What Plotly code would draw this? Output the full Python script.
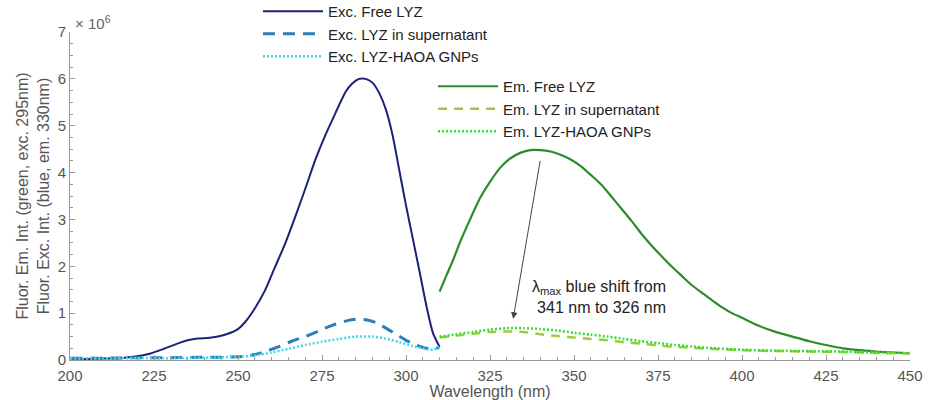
import plotly.graph_objects as go

# ---------------- data (intensity in units of 1e6) ----------------
exc_free_x = [200, 205, 210, 215, 220, 224, 228, 232, 235, 238, 241, 244, 247, 250, 252, 255, 258, 261, 264, 267, 270,
              273, 276, 279, 282, 284, 286, 287, 288, 290, 292, 294, 296, 298, 300, 302, 304, 306, 308, 310]
exc_free_y = [0.03, 0.02, 0.03, 0.04, 0.08, 0.14, 0.24, 0.35, 0.42, 0.46, 0.47, 0.50, 0.56, 0.66, 0.80, 1.10, 1.48, 1.98,
              2.48, 3.05, 3.65, 4.27, 4.80, 5.27, 5.72, 5.90, 6.00, 6.01, 6.00, 5.92, 5.70, 5.35, 4.80, 4.05, 3.30, 2.60,
              1.90, 1.18, 0.58, 0.28]

exc_sup_x = [200, 210, 220, 230, 240, 245, 250, 254, 258, 262, 266, 270, 274, 278, 282, 285, 288, 291, 294, 297, 300,
             303, 306, 308, 310]
exc_sup_y = [0.04, 0.04, 0.05, 0.05, 0.06, 0.06, 0.07, 0.10, 0.18, 0.28, 0.40, 0.50, 0.62, 0.74, 0.83, 0.87, 0.86,
             0.80, 0.68, 0.55, 0.42, 0.32, 0.25, 0.23, 0.27]

exc_gnp_x = [200, 210, 220, 230, 240, 250, 255, 260, 265, 270, 275, 280, 285, 290, 294, 298, 302, 305, 308, 310]
exc_gnp_y = [0.03, 0.03, 0.04, 0.04, 0.05, 0.07, 0.10, 0.16, 0.24, 0.32, 0.39, 0.45, 0.50, 0.50, 0.46, 0.38, 0.30,
             0.25, 0.22, 0.27]

em_free_x = [310, 312, 314, 316, 319, 322, 325, 328, 331, 334, 337, 340, 343, 346, 349, 352, 355, 358, 361, 364, 367,
             370, 373, 376, 379, 382, 385, 388, 391, 394, 397, 400, 405, 410, 415, 420, 425, 430, 435, 440, 445, 450]
em_free_y = [1.46, 1.80, 2.13, 2.50, 2.99, 3.45, 3.80, 4.10, 4.30, 4.42, 4.48, 4.48, 4.45, 4.38, 4.28, 4.14, 3.95,
             3.75, 3.50, 3.24, 2.98, 2.70, 2.45, 2.22, 2.00, 1.80, 1.60, 1.44, 1.28, 1.13, 1.00, 0.90, 0.73, 0.60,
             0.50, 0.40, 0.32, 0.25, 0.21, 0.18, 0.16, 0.14]

em_sup_x = [310, 315, 320, 325, 330, 335, 340, 345, 350, 355, 360, 365, 370, 375, 380, 385, 390, 400, 410, 420, 430,
            440, 450]
em_sup_y = [0.48, 0.52, 0.56, 0.60, 0.61, 0.60, 0.55, 0.51, 0.48, 0.45, 0.42, 0.38, 0.35, 0.31, 0.28, 0.26, 0.24,
            0.21, 0.19, 0.18, 0.17, 0.15, 0.14]

em_gnp_x = [310, 315, 320, 325, 330, 335, 340, 345, 350, 355, 360, 365, 370, 375, 380, 385, 390, 400, 410, 420, 430,
            440, 450]
em_gnp_y = [0.50, 0.55, 0.60, 0.65, 0.68, 0.68, 0.66, 0.63, 0.58, 0.54, 0.50, 0.45, 0.40, 0.36, 0.32, 0.29, 0.26,
            0.22, 0.20, 0.19, 0.18, 0.16, 0.15]

x_ticks = [200, 225, 250, 275, 300, 325, 350, 375, 400, 425, 450]
y_ticks = [0, 1, 2, 3, 4, 5, 6, 7]

FONT = "Liberation Sans, Arial, sans-serif"
TXT = "#222222"
GREY = "#555555"

fig = go.Figure()

def add(x, y, name, color, width, dash, legend):
    fig.add_trace(go.Scatter(x=x, y=y, name=name, mode="lines",
                             line=dict(color=color, width=width, dash=dash, shape="spline", smoothing=0.6),
                             legend=legend))

add(exc_free_x, exc_free_y, "Exc. Free LYZ", "#1c2278", 2, "solid", "legend")
add(exc_sup_x, exc_sup_y, "Exc. LYZ in supernatant", "#2a7fb8", 3, "12px,8px", "legend")
add(exc_gnp_x, exc_gnp_y, "Exc. LYZ-HAOA GNPs", "#3fd8ea", 2.5, "2px,2px", "legend")
add(em_free_x, em_free_y, "Em. Free LYZ", "#2b8c2b", 2.2, "solid", "legend2")
add(em_sup_x, em_sup_y, "Em. LYZ in supernatant", "#9acd3a", 2.5, "9px,7px", "legend2")
add(em_gnp_x, em_gnp_y, "Em. LYZ-HAOA GNPs", "#33dd33", 2.5, "2px,2px", "legend2")

# annotation arrow (λmax shift)
fig.add_annotation(x=331.9, y=0.88, ax=340.0, ay=4.28, xref="x", yref="y", axref="x", ayref="y",
                   text="", showarrow=True, arrowhead=2, arrowsize=1.3, arrowwidth=1, arrowcolor="#444444")
fig.add_annotation(x=378.0, y=1.34, xref="x", yref="y", xanchor="right", yanchor="middle", align="right",
                   text="λ<sub>max</sub> blue shift from<br>341 nm to 326 nm", showarrow=False,
                   font=dict(family=FONT, size=16, color=TXT))
# exponent label
fig.add_annotation(x=0.0, y=1.0, xref="paper", yref="paper", xanchor="left", yanchor="bottom", xshift=3, yshift=-2,
                   text="× 10<sup>6</sup>", showarrow=False, font=dict(family=FONT, size=15, color="#666666"))

axis_common = dict(showline=True, linecolor="#9a9a9a", linewidth=1, ticks="inside", ticklen=5,
                   tickcolor="#9a9a9a", showgrid=False, zeroline=False, mirror=False,
                   tickfont=dict(family=FONT, size=15, color=GREY))

fig.update_layout(
    width=933, height=400,
    margin=dict(l=70, r=23, t=32, b=40, autoexpand=False),
    paper_bgcolor="white", plot_bgcolor="white",
    font=dict(family=FONT, size=15, color=TXT),
    xaxis=dict(range=[200, 450], tickvals=x_ticks, ticktext=[str(v) for v in x_ticks],
               minor=dict(dtick=5, ticks="inside", ticklen=3, tickcolor="#9a9a9a"),
               ticklabelstandoff=2,
               title=dict(text="Wavelength (nm)", standoff=5, font=dict(family=FONT, size=16, color=GREY)),
               **axis_common),
    yaxis=dict(range=[0, 7], tickvals=y_ticks, ticktext=[str(v) for v in y_ticks],
               minor=dict(dtick=0.25, ticks="inside", ticklen=3, tickcolor="#9a9a9a"),
               title=dict(text="Fluor. Em. Int. (green, exc. 295nm)<br>Fluor. Exc. Int. (blue, em. 330nm)",
                          standoff=4, font=dict(family=FONT, size=16, color=GREY)),
               **axis_common),
    legend=dict(x=(258 - 70) / 840, y=(360 + 5) / 328, xanchor="left", yanchor="top",
                bgcolor="rgba(255,255,255,0)", font=dict(family=FONT, size=15, color=TXT),
                tracegroupgap=0, itemwidth=60),
    legend2=dict(x=(433 - 70) / 840, y=(360 - 70) / 328, xanchor="left", yanchor="top",
                 bgcolor="rgba(255,255,255,0)", font=dict(family=FONT, size=15, color=TXT),
                 tracegroupgap=0, itemwidth=60),
)

fig.write_html("out.html")
